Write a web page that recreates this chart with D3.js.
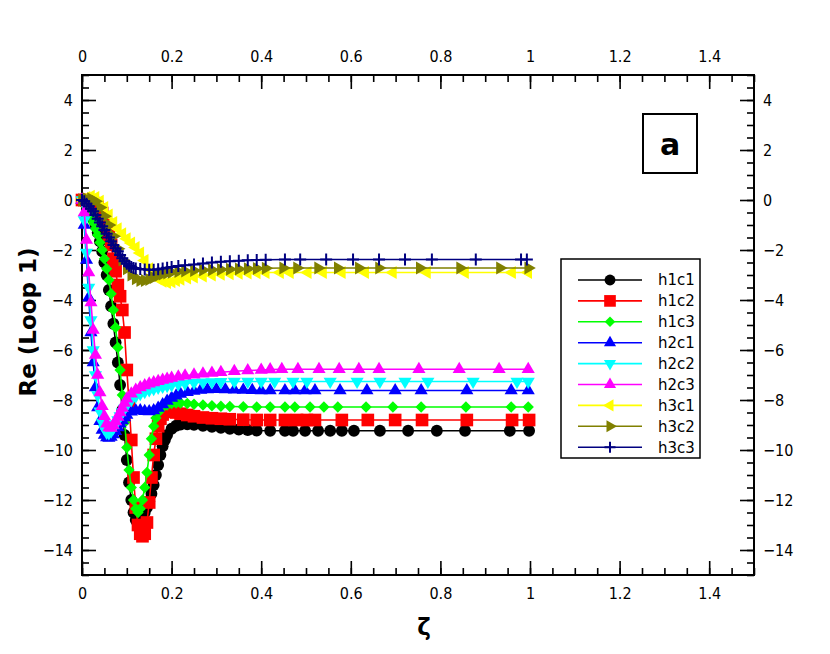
<!DOCTYPE html>
<html>
<head>
<meta charset="utf-8">
<script src="https://cdn.jsdelivr.net/npm/d3@7/dist/d3.min.js"></script>
<style>
  body { margin: 0; background: #fff; }
  .tick text { font-family: "Liberation Sans Narrow", "DejaVu Sans Condensed", sans-serif; font-size: 16px; fill: #000; }
  .tick line { stroke: #000; stroke-width: 1.6px; }
</style>
</head>
<body>
<div id="chart"></div>
<script>
// ticks
var xTicks = [0, 0.2, 0.4, 0.6, 0.8, 1, 1.2, 1.4];
var yTicks = [4, 2, 0, -2, -4, -6, -8, -10, -12, -14];

// series, [zeta, Re]
var h1c1 = [[0,0],[0.005,-0.05],[0.01,-0.15],[0.015,-0.3],[0.02,-0.5],[0.025,-0.75],[0.03,-1.0],[0.035,-1.3],[0.04,-1.65],[0.045,-2.05],[0.05,-2.5],[0.055,-3.0],[0.06,-3.6],[0.065,-4.25],[0.07,-4.95],[0.075,-5.7],[0.08,-6.5],[0.085,-7.4],[0.09,-8.4],[0.095,-9.4],[0.1,-10.4],[0.105,-11.3],[0.11,-12.0],[0.115,-12.5],[0.12,-12.8],[0.125,-12.9],[0.13,-12.85],[0.135,-12.7],[0.14,-12.5],[0.145,-12.3],[0.15,-12.05],[0.155,-11.75],[0.16,-11.4],[0.165,-11.0],[0.17,-10.6],[0.175,-10.2],[0.18,-9.85],[0.185,-9.6],[0.19,-9.4],[0.2,-9.15],[0.21,-9.03],[0.22,-8.98],[0.235,-8.97],[0.25,-8.99],[0.27,-9.03],[0.29,-9.07],[0.31,-9.11],[0.33,-9.15],[0.35,-9.18],[0.37,-9.2],[0.39,-9.22],[0.42,-9.23],[0.453,-9.23],[0.471,-9.23],[0.498,-9.23],[0.527,-9.23],[0.554,-9.23],[0.58,-9.23],[0.607,-9.23],[0.665,-9.23],[0.728,-9.23],[0.792,-9.23],[0.855,-9.23],[0.955,-9.23],[0.998,-9.23]];
var h1c2 = [[0,0],[0.005,0.0],[0.01,-0.02],[0.015,-0.05],[0.02,-0.08],[0.025,-0.12],[0.03,-0.18],[0.035,-0.27],[0.04,-0.38],[0.045,-0.52],[0.05,-0.72],[0.055,-1.0],[0.06,-1.4],[0.065,-1.8],[0.07,-2.35],[0.075,-2.85],[0.08,-3.4],[0.085,-3.85],[0.09,-4.4],[0.095,-5.3],[0.1,-6.8],[0.105,-8.1],[0.11,-9.6],[0.115,-11.1],[0.12,-12.3],[0.125,-13.0],[0.13,-13.35],[0.135,-13.45],[0.14,-13.35],[0.145,-12.9],[0.15,-12.1],[0.155,-11.1],[0.16,-10.2],[0.165,-9.55],[0.17,-9.05],[0.175,-8.75],[0.18,-8.58],[0.19,-8.47],[0.2,-8.46],[0.21,-8.5],[0.22,-8.55],[0.235,-8.6],[0.25,-8.65],[0.27,-8.7],[0.29,-8.73],[0.31,-8.75],[0.33,-8.77],[0.36,-8.79],[0.39,-8.8],[0.42,-8.8],[0.453,-8.8],[0.48,-8.8],[0.502,-8.8],[0.52,-8.8],[0.58,-8.8],[0.638,-8.8],[0.699,-8.8],[0.759,-8.8],[0.859,-8.8],[0.96,-8.8],[0.998,-8.8]];
var h1c3 = [[0,0],[0.005,-0.1],[0.01,-0.3],[0.015,-0.5],[0.02,-0.7],[0.025,-0.9],[0.03,-1.15],[0.035,-1.4],[0.04,-1.7],[0.045,-2.0],[0.05,-2.35],[0.055,-2.75],[0.06,-3.2],[0.065,-3.75],[0.07,-4.4],[0.075,-5.1],[0.08,-5.9],[0.085,-6.8],[0.09,-7.8],[0.095,-8.9],[0.1,-9.9],[0.105,-10.8],[0.11,-11.5],[0.115,-12.0],[0.12,-12.35],[0.125,-12.5],[0.13,-12.35],[0.135,-12.0],[0.14,-11.5],[0.145,-10.9],[0.15,-10.2],[0.155,-9.55],[0.16,-9.05],[0.165,-8.72],[0.17,-8.5],[0.18,-8.3],[0.19,-8.2],[0.2,-8.14],[0.21,-8.12],[0.22,-8.12],[0.235,-8.14],[0.25,-8.17],[0.27,-8.2],[0.29,-8.23],[0.31,-8.25],[0.33,-8.26],[0.36,-8.27],[0.39,-8.28],[0.42,-8.28],[0.453,-8.28],[0.475,-8.28],[0.509,-8.28],[0.54,-8.28],[0.571,-8.28],[0.634,-8.28],[0.694,-8.28],[0.757,-8.28],[0.857,-8.28],[0.958,-8.28],[0.996,-8.28]];
var h2c1 = [[0,0],[0.005,-1.0],[0.01,-2.4],[0.015,-3.9],[0.02,-5.3],[0.025,-6.5],[0.03,-7.5],[0.035,-8.3],[0.04,-8.85],[0.045,-9.2],[0.05,-9.4],[0.055,-9.5],[0.06,-9.52],[0.065,-9.48],[0.07,-9.38],[0.075,-9.25],[0.08,-9.1],[0.085,-8.95],[0.09,-8.82],[0.095,-8.7],[0.1,-8.6],[0.11,-8.47],[0.12,-8.42],[0.13,-8.42],[0.14,-8.45],[0.15,-8.46],[0.16,-8.42],[0.17,-8.32],[0.18,-8.18],[0.19,-8.04],[0.2,-7.92],[0.21,-7.83],[0.22,-7.76],[0.235,-7.69],[0.25,-7.64],[0.265,-7.6],[0.28,-7.58],[0.3,-7.57],[0.32,-7.58],[0.34,-7.59],[0.36,-7.6],[0.38,-7.61],[0.4,-7.62],[0.42,-7.62],[0.453,-7.62],[0.475,-7.62],[0.498,-7.62],[0.52,-7.62],[0.576,-7.62],[0.636,-7.62],[0.699,-7.62],[0.757,-7.62],[0.859,-7.62],[0.958,-7.62],[0.996,-7.62]];
var h2c2 = [[0,0],[0.005,-0.8],[0.01,-2.1],[0.015,-3.5],[0.02,-4.8],[0.025,-6.0],[0.03,-7.0],[0.035,-7.8],[0.04,-8.45],[0.045,-8.9],[0.05,-9.15],[0.055,-9.3],[0.06,-9.32],[0.065,-9.25],[0.07,-9.12],[0.075,-8.96],[0.08,-8.8],[0.085,-8.64],[0.09,-8.48],[0.095,-8.34],[0.1,-8.2],[0.11,-8.0],[0.12,-7.85],[0.13,-7.75],[0.14,-7.67],[0.15,-7.6],[0.16,-7.55],[0.17,-7.5],[0.18,-7.46],[0.19,-7.43],[0.2,-7.4],[0.215,-7.37],[0.23,-7.34],[0.25,-7.31],[0.27,-7.29],[0.29,-7.28],[0.31,-7.27],[0.34,-7.26],[0.37,-7.26],[0.4,-7.26],[0.43,-7.26],[0.471,-7.26],[0.502,-7.26],[0.554,-7.26],[0.614,-7.26],[0.665,-7.26],[0.721,-7.26],[0.772,-7.26],[0.873,-7.26],[0.971,-7.26],[0.996,-7.26]];
var h2c3 = [[0,0],[0.005,-0.5],[0.01,-1.6],[0.015,-2.9],[0.02,-4.1],[0.025,-5.2],[0.03,-6.2],[0.035,-7.0],[0.04,-7.7],[0.045,-8.25],[0.05,-8.65],[0.055,-8.95],[0.06,-9.1],[0.065,-9.12],[0.07,-9.02],[0.075,-8.86],[0.08,-8.68],[0.085,-8.5],[0.09,-8.32],[0.095,-8.12],[0.1,-7.95],[0.11,-7.75],[0.12,-7.6],[0.13,-7.5],[0.14,-7.42],[0.15,-7.35],[0.16,-7.3],[0.17,-7.25],[0.18,-7.2],[0.19,-7.16],[0.2,-7.12],[0.215,-7.07],[0.23,-7.03],[0.25,-6.99],[0.27,-6.95],[0.29,-6.92],[0.31,-6.89],[0.34,-6.85],[0.37,-6.82],[0.4,-6.8],[0.42,-6.78],[0.446,-6.77],[0.482,-6.77],[0.529,-6.77],[0.574,-6.77],[0.618,-6.77],[0.663,-6.77],[0.752,-6.77],[0.842,-6.77],[0.931,-6.77],[0.996,-6.77]];
var h3c1 = [[0,0],[0.01,0.1],[0.02,0.15],[0.03,0.1],[0.04,-0.05],[0.05,-0.3],[0.06,-0.6],[0.07,-0.9],[0.08,-1.15],[0.09,-1.35],[0.1,-1.55],[0.11,-1.72],[0.12,-1.9],[0.13,-2.12],[0.14,-2.42],[0.15,-2.75],[0.16,-3.0],[0.17,-3.15],[0.18,-3.25],[0.19,-3.3],[0.2,-3.27],[0.21,-3.22],[0.22,-3.17],[0.235,-3.12],[0.25,-3.08],[0.27,-3.04],[0.29,-3.0],[0.31,-2.97],[0.33,-2.95],[0.35,-2.93],[0.37,-2.92],[0.39,-2.91],[0.41,-2.9],[0.442,-2.9],[0.464,-2.9],[0.504,-2.9],[0.538,-2.9],[0.58,-2.9],[0.632,-2.9],[0.694,-2.9],[0.77,-2.9],[0.855,-2.9],[0.96,-2.9],[0.996,-2.9]];
var h3c2 = [[0,0],[0.01,0.05],[0.02,0.05],[0.03,-0.05],[0.04,-0.3],[0.05,-0.65],[0.06,-1.0],[0.07,-1.45],[0.08,-1.95],[0.09,-2.4],[0.1,-2.75],[0.11,-3.0],[0.12,-3.15],[0.13,-3.22],[0.14,-3.22],[0.15,-3.18],[0.16,-3.1],[0.17,-3.02],[0.18,-2.96],[0.19,-2.92],[0.2,-2.89],[0.215,-2.86],[0.23,-2.84],[0.25,-2.82],[0.27,-2.8],[0.29,-2.79],[0.31,-2.78],[0.33,-2.77],[0.35,-2.76],[0.37,-2.75],[0.39,-2.74],[0.41,-2.73],[0.449,-2.72],[0.48,-2.72],[0.527,-2.72],[0.571,-2.72],[0.618,-2.72],[0.663,-2.72],[0.754,-2.72],[0.844,-2.72],[0.933,-2.72],[0.996,-2.72]];
var h3c3 = [[0,0],[0.005,-0.05],[0.01,-0.15],[0.015,-0.25],[0.02,-0.35],[0.025,-0.45],[0.03,-0.6],[0.035,-0.75],[0.04,-0.9],[0.045,-1.05],[0.05,-1.2],[0.055,-1.35],[0.06,-1.5],[0.065,-1.65],[0.07,-1.8],[0.075,-1.93],[0.08,-2.05],[0.085,-2.2],[0.09,-2.33],[0.095,-2.45],[0.1,-2.55],[0.105,-2.63],[0.11,-2.68],[0.115,-2.72],[0.12,-2.74],[0.13,-2.76],[0.14,-2.78],[0.15,-2.79],[0.16,-2.79],[0.17,-2.77],[0.18,-2.74],[0.19,-2.71],[0.2,-2.68],[0.215,-2.64],[0.23,-2.61],[0.25,-2.58],[0.27,-2.54],[0.29,-2.5],[0.31,-2.47],[0.33,-2.45],[0.35,-2.43],[0.37,-2.41],[0.39,-2.4],[0.41,-2.39],[0.453,-2.38],[0.487,-2.38],[0.545,-2.38],[0.605,-2.38],[0.663,-2.38],[0.721,-2.38],[0.781,-2.38],[0.879,-2.38],[0.98,-2.38],[0.993,-2.38]];

var names   = ["h1c1", "h1c2", "h1c3", "h2c1", "h2c2", "h2c3", "h3c1", "h3c2", "h3c3"];
var values  = [h1c1, h1c2, h1c3, h2c1, h2c2, h2c3, h3c1, h3c2, h3c3];
var colors  = ["#000000", "#ff0000", "#00ff00", "#0000ff", "#00ffff", "#ff00ff", "#ffff00", "#808000", "#000080"];
var markers = ["circle", "square", "diamond", "up", "down", "up", "left", "right", "plus"];

var width = 830, height = 654;
var svg = d3.select("#chart").append("svg").attr("width", width).attr("height", height);

var x = d3.scaleLinear().domain([0, 1.5]).range([82, 754]);
var y = d3.scaleLinear().domain([-15, 5]).range([575, 75]);

var fmt = d3.format("~g");
var xMinor = d3.range(0, 1.5001, 0.05);
var yMinor = d3.range(-15, 5.001, 0.5);

// axes, ticks pointing inward
function axis(fn, scale, vals, size, labels, pad) {
  var a = fn(scale).tickValues(vals).tickSize(-size).tickPadding(pad);
  a.tickFormat(labels ? fmt : "");
  return a;
}
var axes = [
  [d3.axisBottom, x, "translate(0,575)", xTicks, xMinor, 13],
  [d3.axisTop,    x, "translate(0,75)",  xTicks, xMinor, 13],
  [d3.axisLeft,   y, "translate(82,0)",  yTicks, yMinor, 9],
  [d3.axisRight,  y, "translate(754,0)", yTicks, yMinor, 9]
];
axes.forEach(function(d) {
  svg.append("g").attr("transform", d[2]).call(axis(d[0], d[1], d[4], 7, false, 0))
    .call(function(g){ g.select(".domain").remove(); });
  svg.append("g").attr("transform", d[2]).call(axis(d[0], d[1], d[3], 14, true, d[5]))
    .call(function(g){ g.select(".domain").remove(); });
});

svg.append("rect").attr("x", 82).attr("y", 75).attr("width", 672).attr("height", 500)
  .attr("fill", "none").attr("stroke", "#000").attr("stroke-width", 2);

// marker shapes
var plusSym = { draw: function(ctx, size) {
  var r = Math.sqrt(size) / 2;
  ctx.moveTo(-r, 0); ctx.lineTo(r, 0); ctx.moveTo(0, -r); ctx.lineTo(0, r);
}};
function markerPath(kind, k) {
  if (kind == "circle")  return d3.symbol().type(d3.symbolCircle).size(110 * k)();
  if (kind == "square")  return d3.symbol().type(d3.symbolSquare).size(160 * k)();
  if (kind == "diamond") return d3.symbol().type(d3.symbolSquare).size(64 * k)();
  if (kind == "plus")    return d3.symbol().type(plusSym).size(144 * k)();
  return d3.symbol().type(d3.symbolTriangle).size(75 * k)();
}
var rot = { diamond: 45, down: 180, left: -90, right: 90 };

function drawMarker(sel, kind, color, k) {
  sel.attr("d", markerPath(kind, k));
  if (kind == "plus") sel.attr("fill", "none").attr("stroke", color).attr("stroke-width", 2);
  else sel.attr("fill", color);
}

var line = d3.line().x(function(d){ return x(d[0]); }).y(function(d){ return y(d[1]); });

values.forEach(function(data, i) {
  var g = svg.append("g");
  g.append("path").datum(data).attr("d", line)
    .attr("fill", "none").attr("stroke", colors[i]).attr("stroke-width", 1.6);
  g.selectAll("path.m").data(data).enter().append("path").attr("class", "m")
    .attr("transform", function(d){
      return "translate(" + x(d[0]) + "," + y(d[1]) + ") rotate(" + (rot[markers[i]] || 0) + ")";
    })
    .call(drawMarker, markers[i], colors[i], 1);
});

// legend
var leg = svg.append("g");
leg.append("rect").attr("x", 561).attr("y", 259).attr("width", 139).attr("height", 199)
  .attr("fill", "#fff").attr("stroke", "#000").attr("stroke-width", 1.5);
names.forEach(function(n, i) {
  var yy = 280 + i * 20.9;
  leg.append("line").attr("x1", 578).attr("x2", 642).attr("y1", yy).attr("y2", yy)
    .attr("stroke", colors[i]).attr("stroke-width", 1.6);
  leg.append("path").attr("transform", "translate(610," + yy + ") rotate(" + (rot[markers[i]] || 0) + ")")
    .call(drawMarker, markers[i], colors[i], 0.85);
  leg.append("text").attr("x", 658).attr("y", yy).attr("dy", "0.36em")
    .attr("font-family", "DejaVu Sans, Verdana, sans-serif").attr("font-size", 15).text(n);
});

// panel label
svg.append("rect").attr("x", 643).attr("y", 114).attr("width", 54).attr("height", 59)
  .attr("fill", "#fff").attr("stroke", "#000").attr("stroke-width", 2);
svg.append("text").attr("x", 670).attr("y", 155).attr("text-anchor", "middle")
  .attr("font-family", "DejaVu Sans, sans-serif").attr("font-weight", "bold").attr("font-size", 30).text("a");

// axis titles
svg.append("text").attr("x", 424).attr("y", 635).attr("text-anchor", "middle")
  .attr("font-family", "DejaVu Sans, sans-serif").attr("font-weight", "bold").attr("font-size", 23).text("ζ");
svg.append("text").attr("transform", "translate(36,322) rotate(-90)").attr("text-anchor", "middle")
  .attr("font-family", "DejaVu Sans, sans-serif").attr("font-weight", "bold").attr("font-size", 23).text("Re (Loop 1)");
</script>
</body>
</html>
